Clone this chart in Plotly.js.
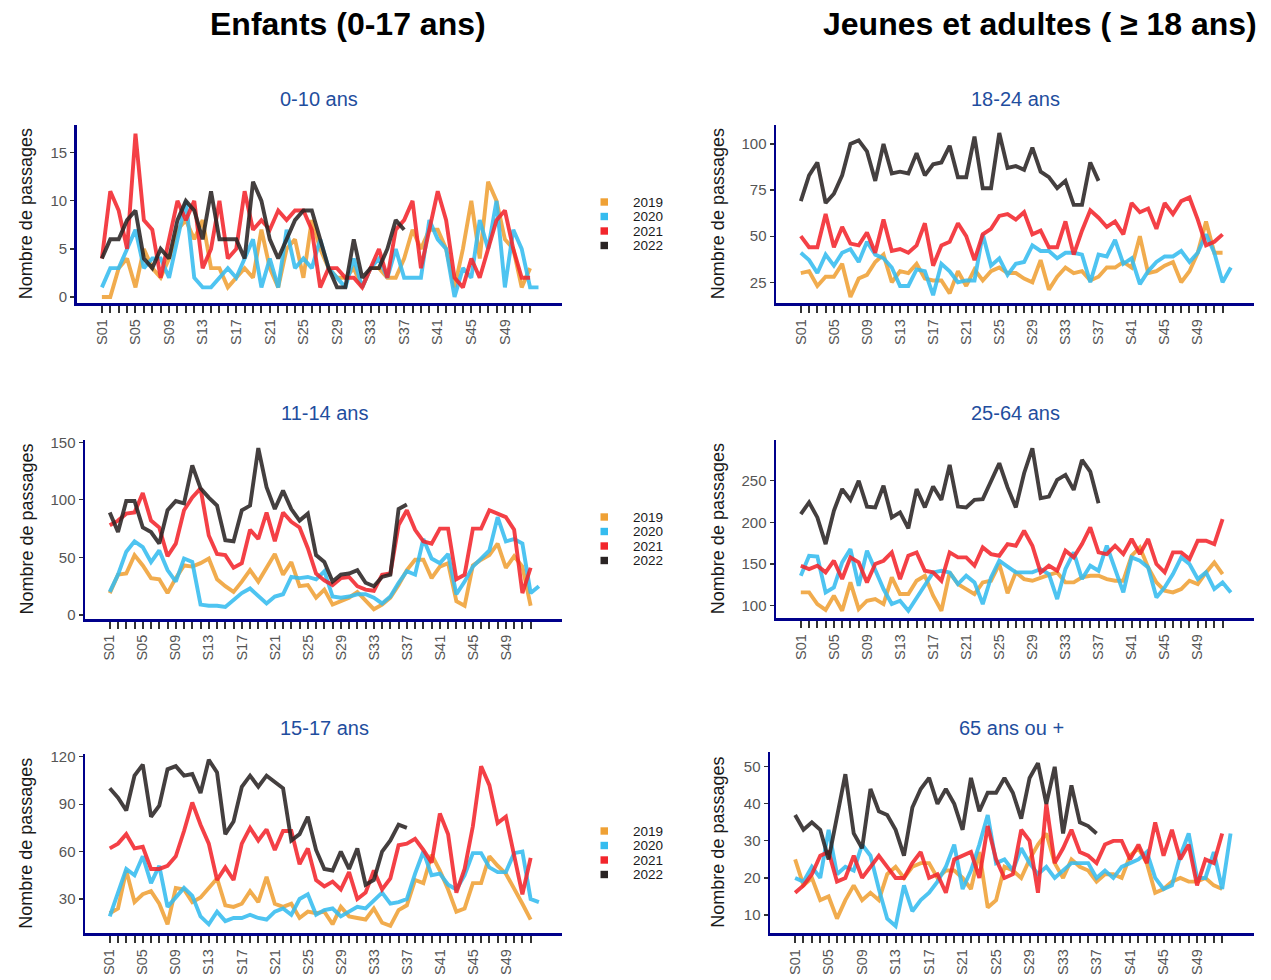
<!DOCTYPE html>
<html><head><meta charset="utf-8">
<script src="https://cdn.plot.ly/plotly-3.0.1.min.js"></script>
<style>body{margin:0;padding:0;background:#fff}#chart{width:1271px;height:980px}</style>
</head><body><div id="chart"></div>
<script>
const weeks = [1,2,3,4,5,6,7,8,9,10,11,12,13,14,15,16,17,18,19,20,21,22,23,24,25,26,27,28,29,30,31,32,33,34,35,36,37,38,39,40,41,42,43,44,45,46,47,48,49,50,51,52,53];
const tickWeeks = [1,2,3,4,5,6,7,8,9,10,11,12,13,14,15,16,17,18,19,20,21,22,23,24,25,26,27,28,29,30,31,32,33,34,35,36,37,38,39,40,41,42,43,44,45,46,47,48,49,50,51,52];
const tickLabels = ["S01","","","","S05","","","","S09","","","","S13","","","","S17","","","","S21","","","","S25","","","","S29","","","","S33","","","","S37","","","","S41","","","","S45","","","","S49","","",""];
const years = ["2019","2020","2021","2022"];
const yearColors = ["#EFA135","#35BCEF","#F2262C","#2A2424"];

// 0-10 ans
const a0_10_2019 = [0,0,3,4,1,5,3,2,4,7, 8,6,8,3,3,1,2,3,2,7, 3,1,5,6,2,8,5,3,2,2, 3,1,3,3,2,2,4,7,5,7, 7,5,1,5,10,4,12,10,6,5, 1,3];
const a0_10_2020 = [1,3,3,5,7,3,4,4,2,6, 10,2,1,1,2,3,2,4,6,1, 4,1,7,3,4,3,6,3,2,1, 4,1,3,4,2,5,2,2,2,8, 6,5,0,3,2,8,5,10,1,7, 5,1,1];
const a0_10_2021 = [4,11,9,5,17,8,7,2,6,10, 8,10,3,5,10,4,5,11,7,8, 7,9,8,9,9,7,1,3,3,2, 2,1,3,5,2,7,8,10,3,7, 11,8,2,1,4,2,5,8,9,5, 2,2];
const a0_10_2022 = [4,6,6,8,9,4,3,5,4,8, 10,9,6,11,6,6,6,4,12,10, 6,4,6,8,9,9,6,3,1,1, 6,2,3,3,5,8,7];
// 18-24 ans
const a18_24_2019 = [30,31,23,28,28,35,17,27,29,36, 40,25,31,30,35,27,26,26,19,31, 23,32,26,31,33,30,30,27,25,37, 21,28,33,30,31,26,28,33,33,36, 33,50,30,31,34,36,25,31,41,58, 41,41];
const a18_24_2020 = [41,37,30,40,34,41,43,36,47,40, 38,33,23,23,32,31,18,35,31,25, 26,26,51,34,38,29,35,36,45,42, 42,38,41,41,40,25,40,39,48,35, 38,24,31,36,39,39,42,36,41,51, 41,25,33];
const a18_24_2021 = [50,44,44,62,44,55,46,45,52,41, 59,42,43,41,45,57,34,45,47,57, 50,37,51,54,61,62,59,63,51,53, 44,44,58,40,53,64,60,55,58,51, 68,63,65,54,68,62,69,71,59,45, 47,51];
const a18_24_2022 = [69,83,90,68,73,83,100,102,96,80, 100,84,85,84,95,83,89,90,99,82, 82,104,76,76,106,87,88,86,98,85, 82,76,80,67,67,90,80];
// 11-14 ans
const a11_14_2019 = [19,35,36,52,43,32,31,19,32,43, 42,45,49,31,25,20,29,39,29,41, 53,35,46,25,26,15,22,9,12,15, 20,12,5,9,15,26,39,48,48,32, 42,45,12,8,43,48,52,62,41,51, 42,8];
const a11_14_2020 = [20,35,55,64,59,46,56,39,29,49, 46,9,8,8,7,13,19,23,16,10, 16,18,33,32,33,31,38,16,15,16, 18,18,15,10,16,28,38,35,66,49, 45,53,18,29,42,49,56,85,64,66, 62,19,25];
const a11_14_2021 = [78,82,88,89,106,82,76,51,62,91, 102,110,69,53,52,41,45,74,66,89, 64,89,81,76,58,36,30,26,32,33, 25,22,21,35,36,78,91,74,64,62, 75,75,31,35,75,75,91,88,85,74, 19,41];
const a11_14_2022 = [89,72,99,99,76,72,62,91,99,97, 130,110,102,95,65,64,91,95,145,111, 92,108,92,82,88,52,46,29,35,36, 39,28,25,33,35,92,96];
// 25-64 ans
const a25_64_2019 = [116,116,102,95,112,94,128,96,106,108, 102,134,114,114,130,136,112,94,140,126, 120,114,128,130,150,115,140,132,130,134, 137,140,128,128,134,136,136,132,130,130, 160,170,146,128,118,116,120,130,126,140, 152,138];
const a25_64_2020 = [136,160,159,116,122,152,168,124,166,142, 120,102,106,94,110,126,140,142,140,126, 136,128,102,134,154,147,140,140,140,144, 138,108,144,164,132,148,142,172,144,116, 158,154,146,110,122,138,158,150,132,140, 120,128,116];
const a25_64_2021 = [148,144,148,140,154,132,158,152,128,150, 154,164,132,160,164,142,140,130,164,158, 158,148,170,162,160,174,172,190,172,140, 148,142,166,158,174,194,164,162,172,162, 180,162,180,150,140,164,164,156,178,178, 174,204];
const a25_64_2022 = [210,224,206,174,214,240,227,250,219,218, 244,206,212,193,240,218,243,227,269,219, 218,227,228,249,271,242,218,259,289,229, 231,251,257,239,275,261,223];
// 15-17 ans
const a15_17_2019 = [21,24,48,28,33,35,27,14,37,36, 28,31,37,43,26,25,27,35,28,44, 27,25,27,18,22,21,22,14,25,19, 18,17,24,15,13,23,26,42,40,58, 48,36,22,24,40,40,57,51,46,37, 27,17];
const a15_17_2020 = [19,34,49,45,57,40,51,25,31,37, 32,19,14,22,16,18,18,20,18,17, 22,24,20,30,33,20,23,24,19,22, 25,24,29,34,27,28,30,46,60,45, 46,39,36,45,59,59,50,47,47,59, 60,30,28];
const a15_17_2021 = [62,65,71,62,63,49,49,51,57,73, 91,77,65,42,50,42,65,75,67,74, 61,73,73,52,62,42,38,41,36,47, 30,34,48,36,43,64,65,68,61,53, 84,71,34,49,76,114,102,78,82,57, 33,56];
const a15_17_2022 = [100,94,86,108,115,82,89,112,114,108, 109,97,118,110,71,79,101,108,101,108, 104,100,67,71,82,61,49,48,60,49, 62,39,42,60,67,77,75];
// 65 ans ou +
const a65_2019 = [25,18,20,14,15,9,14,18,14,16, 14,21,23,20,23,24,24,20,22,22, 20,17,27,12,14,23,22,20,25,29, 32,24,20,25,23,22,19,21,21,20, 26,28,24,16,17,19,20,19,19,20, 18,17];
const a65_2020 = [20,19,23,20,33,21,23,22,29,26, 17,9,7,18,11,14,16,19,23,29, 17,22,29,37,24,25,22,28,24,21, 23,20,22,24,24,24,20,22,20,23, 24,25,27,20,17,18,26,32,20,20, 27,17,32];
const a65_2021 = [16,18,21,26,27,19,20,26,20,23, 26,23,20,20,24,27,20,21,16,25, 26,27,20,34,25,20,21,33,30,16, 40,24,28,33,27,26,24,29,30,30, 25,29,24,35,26,33,25,29,18,25, 24,32];
const a65_2022 = [37,33,35,33,25,37,48,32,28,44, 38,37,33,26,39,44,47,40,44,40, 33,47,38,43,43,47,43,36,47,51, 40,50,32,45,35,34,32];

const panelTitles = ["0-10 ans","18-24 ans","11-14 ans","25-64 ans","15-17 ans","65 ans ou +"];
const panelYTicks = [[0,5,10,15],[25,50,75,100],[0,50,100,150],[100,150,200,250],[30,60,90,120],[10,20,30,40,50]];
const panelSeries = [
  [a0_10_2019,a0_10_2020,a0_10_2021,a0_10_2022],
  [a18_24_2019,a18_24_2020,a18_24_2021,a18_24_2022],
  [a11_14_2019,a11_14_2020,a11_14_2021,a11_14_2022],
  [a25_64_2019,a25_64_2020,a25_64_2021,a25_64_2022],
  [a15_17_2019,a15_17_2020,a15_17_2021,a15_17_2022],
  [a65_2019,a65_2020,a65_2021,a65_2022]
];
const groupTitles = ["Enfants (0-17 ans)","Jeunes et adultes ( \u2265 18 ans)"];
const yTitle = "Nombre de passages";

// layout geometry (pixels)
const W = 1271, H = 980;
const geo = [
  {x0:76.7, x1:562, y0:125, y1:303.3, yr:[-0.66,17.9], tx:319, ty:99},
  {x0:776, x1:1254, y0:125, y1:303.3, yr:[13.6,110.3], tx:1016, ty:99},
  {x0:85, x1:562, y0:440, y1:619, yr:[-3.5,152], tx:325, ty:413},
  {x0:776, x1:1254, y0:440, y1:618.3, yr:[84.9,298.9], tx:1016, ty:413},
  {x0:85, x1:562, y0:754.3, y1:933.3, yr:[8.3,121.5], tx:325, ty:728},
  {x0:770, x1:1254, y0:752, y1:933.3, yr:[5.05,54], tx:1011, ty:728}
];
const FONT = "Liberation Sans, Arial, sans-serif";
const NAVY = "#00008B";

const traces = [];
const layout = {
  width: W, height: H, margin:{l:0,r:0,t:0,b:0},
  paper_bgcolor:"#fff", plot_bgcolor:"#fff",
  showlegend:false, font:{family:FONT},
  annotations:[], shapes:[]
};
const px = v => v / W, py = v => 1 - v / H;

geo.forEach((g, i) => {
  const n = i + 1;
  const xa = "x" + (n === 1 ? "" : n), ya = "y" + (n === 1 ? "" : n);
  panelSeries[i].forEach((s, k) => {
    traces.push({
      x: weeks.slice(0, s.length), y: s, xaxis: xa, yaxis: ya,
      type: "scatter", mode: "lines", name: years[k],
      line: {color: yearColors[k], width: 3.9}, opacity: 0.88,
      hoverinfo: "skip", showlegend: false
    });
  });
  layout["xaxis" + (n === 1 ? "" : n)] = {
    domain: [px(g.x0), px(g.x1)], anchor: ya, range: [-2.0, 55.8],
    showgrid: false, zeroline: false, showline: true, linecolor: NAVY, linewidth: 3,
    tickmode: "array", tickvals: tickWeeks, ticktext: tickLabels,
    ticks: "outside", ticklen: 7, tickwidth: 2, tickcolor: "#333",
    tickangle: -90, tickfont: {size: 14.5, color: "#555", family: FONT}
  };
  layout["yaxis" + (n === 1 ? "" : n)] = {
    domain: [py(g.y1), py(g.y0)], anchor: xa, range: g.yr,
    showgrid: false, zeroline: false, showline: true, linecolor: NAVY, linewidth: 2.5,
    tickmode: "array", tickvals: panelYTicks[i],
    ticks: "outside", ticklen: 4, tickwidth: 1.2, tickcolor: "#333",
    tickfont: {size: 15, color: "#555", family: FONT}
  };
  layout.annotations.push({
    text: panelTitles[i], x: px(g.tx), y: py(g.ty), xref: "paper", yref: "paper",
    xanchor: "center", yanchor: "middle", showarrow: false,
    font: {size: 20, color: "#1F4E9E", family: FONT}
  });
  layout.annotations.push({
    text: yTitle, textangle: -90, x: px(i % 2 === 0 ? 26 : 718), y: py((g.y0 + g.y1) / 2),
    xref: "paper", yref: "paper", xanchor: "center", yanchor: "middle", showarrow: false,
    font: {size: 18, color: "#1a1a1a", family: FONT}
  });
});

// group titles
layout.annotations.push({text: "<b>" + groupTitles[0] + "</b>", x: px(348), y: py(24), xref:"paper", yref:"paper",
  xanchor:"center", yanchor:"middle", showarrow:false, font:{size:32, color:"#000", family:FONT}});
layout.annotations.push({text: "<b>" + groupTitles[1] + "</b>", x: px(1040), y: py(24), xref:"paper", yref:"paper",
  xanchor:"center", yanchor:"middle", showarrow:false, font:{size:32, color:"#000", family:FONT}});

// legends (one per row)
const legendRows = [202, 517, 831];
const legendStep = 14.5;
legendRows.forEach(r => {
  years.forEach((yr, k) => {
    const cy = r + k * legendStep;
    layout.shapes.push({type:"rect", xref:"paper", yref:"paper",
      x0: px(600.5), x1: px(608), y0: py(cy + 3.7), y1: py(cy - 3.7),
      fillcolor: yearColors[k], line:{width:0}});
    layout.annotations.push({text: yr, x: px(631), y: py(cy), xref:"paper", yref:"paper",
      xanchor:"left", yanchor:"middle", showarrow:false, font:{size:13.5, color:"#1a1a1a", family:FONT}});
  });
});

Plotly.newPlot("chart", traces, layout, {staticPlot: true, displayModeBar: false});
</script>
</body></html>
